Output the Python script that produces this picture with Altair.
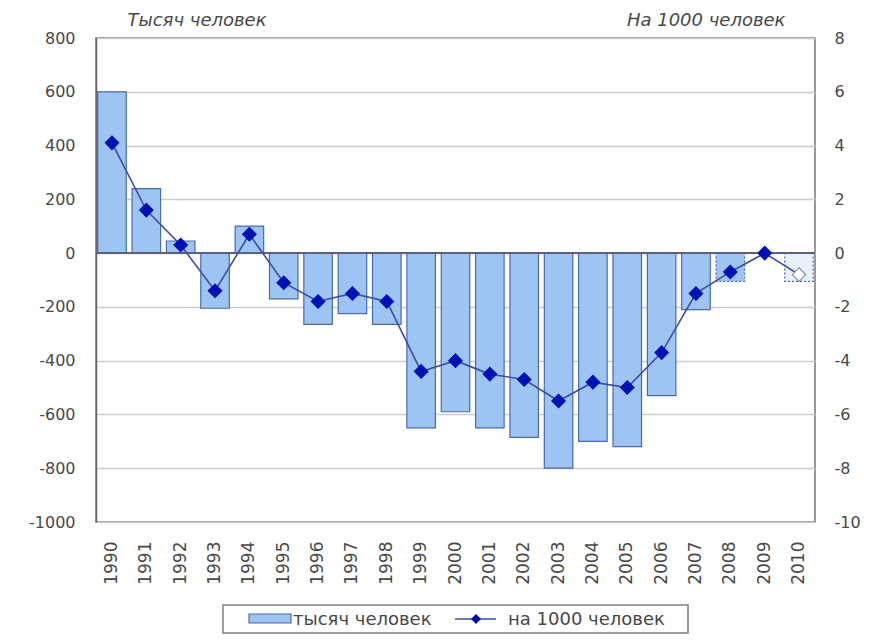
import altair as alt
import pandas as pd

years = [str(y) for y in range(1990, 2011)]
thousands = [600, 240, 45, -205, 100, -170, -265, -225, -265, -650, -590,
             -650, -685, -800, -700, -720, -530, -210, -105, 0, -105]
per1000 = [4.1, 1.6, 0.3, -1.4, 0.7, -1.1, -1.8, -1.5, -1.8, -4.4, -4.0,
           -4.5, -4.7, -5.5, -4.8, -5.0, -3.7, -1.5, -0.7, 0.0, -0.8]
left_ticks = list(range(-1000, 801, 200))
right_ticks = list(range(-10, 9, 2))
legend_labels = ["тысяч человек", "на 1000 человек"]

df = pd.DataFrame({"year": years, "thousands": thousands, "per1000": per1000})

FONT = "DejaVu Sans"
TXT = "#484848"
W, H = 719, 484

x_enc = alt.X(
    "year:N",
    sort=years,
    scale=alt.Scale(paddingInner=0.17, paddingOuter=0.05),
    axis=alt.Axis(title=None, labelAngle=-90, labelPadding=19, ticks=False,
                  domain=False, labelFontSize=17, labelColor=TXT,
                  labelFont=FONT),
)

base = alt.Chart(df)

dashed = "datum.year == '2008' || datum.year == '2010'"

bars = base.mark_bar(stroke="#4a68b0", strokeWidth=1.2).encode(
    x=x_enc,
    y=alt.Y(
        "thousands:Q",
        scale=alt.Scale(domain=[-1000, 800], nice=False, zero=False),
        axis=alt.Axis(
            values=left_ticks, labelExpr="'' + datum.value",
            grid=True, gridColor="#cccccc", gridWidth=1.5,
            ticks=False, domain=True, domainColor="#666666", domainWidth=1.5,
            labelPadding=21, labelFontSize=16, labelColor=TXT, labelFont=FONT,
            title="Тысяч человек", titleAngle=0, titleAlign="left",
            titleBaseline="middle", titleX=31, titleY=-18, titleFont=FONT,
            titleFontSize=18, titleFontStyle="italic", titleFontWeight="normal",
            titleColor=TXT,
        ),
    ),
    fill=alt.condition("datum.year == '2010'", alt.value("#e8f0fb"), alt.value("#9dc5f3")),
    strokeDash=alt.condition(dashed, alt.value([2, 2]), alt.value([1, 0])),
)

zero_rule = base.mark_rule(color="#5a6080", strokeWidth=2).encode(
    y=alt.datum(0)
)

left = alt.layer(bars, zero_rule)

y_right = alt.Y(
    "per1000:Q",
    scale=alt.Scale(domain=[-10, 8], nice=False, zero=False),
    axis=alt.Axis(
        orient="right", values=right_ticks, labelExpr="'' + datum.value",
        grid=False, ticks=False, domain=False, labelPadding=19,
        labelFontSize=16, labelColor=TXT, labelFont=FONT,
        title="На 1000 человек", titleAngle=0, titleAlign="right",
        titleBaseline="middle", titleX=-30, titleY=-18, titleFont=FONT,
        titleFontSize=18, titleFontStyle="italic", titleFontWeight="normal",
        titleColor=TXT,
    ),
)

line = base.mark_line(color="#3d4ca8", strokeWidth=1.6).encode(x=x_enc, y=y_right)

points = base.mark_point(shape="diamond", size=180, strokeWidth=1.2).encode(
    x=x_enc,
    y=y_right,
    fill=alt.condition("datum.year == '2010'", alt.value("#ffffff"), alt.value("#0010b8")),
    stroke=alt.condition("datum.year == '2010'", alt.value("#8090b0"), alt.value("#0010b8")),
    opacity=alt.value(1),
)

right = alt.layer(line, points)

# manual legend (box + symbols + labels), placed below the plot
one = alt.Chart(pd.DataFrame({"k": [0]}))
lg_box = one.mark_rect(fill="white", stroke="#808080", strokeWidth=1.5).encode(
    x=alt.value(127), x2=alt.value(592), y=alt.value(567), y2=alt.value(595)
)
lg_bar = one.mark_rect(fill="#9dc5f3", stroke="#4a68b0", strokeWidth=1.2).encode(
    x=alt.value(153), x2=alt.value(195), y=alt.value(576), y2=alt.value(585)
)
lg_txt1 = one.mark_text(text=legend_labels[0], align="left", baseline="middle",
                        font=FONT, fontSize=18, color=TXT).encode(
    x=alt.value(197), y=alt.value(582)
)
lg_line = one.mark_rule(color="#3d4ca8", strokeWidth=1.6).encode(
    x=alt.value(359), x2=alt.value(400), y=alt.value(581)
)
lg_pt = one.mark_point(shape="diamond", size=100, filled=True, color="#0010b8",
                       opacity=1).encode(x=alt.value(380), y=alt.value(581))
lg_txt2 = one.mark_text(text=legend_labels[1], align="left", baseline="middle",
                        font=FONT, fontSize=18, color=TXT).encode(
    x=alt.value(412), y=alt.value(582)
)
legend = alt.layer(lg_box, lg_bar, lg_txt1, lg_line, lg_pt, lg_txt2)

chart = (
    alt.layer(left, right, legend)
    .resolve_scale(y="independent")
    .properties(
        width=W, height=H,
        autosize=alt.AutoSizeParams(type="none"),
        padding={"left": 88, "top": 30, "right": 56, "bottom": 112},
        background="white",
    )
    .configure_view(stroke="#7a7a7a", strokeWidth=1.5)
)

chart.save("out.html", embed_options={"renderer": "svg", "actions": False})
